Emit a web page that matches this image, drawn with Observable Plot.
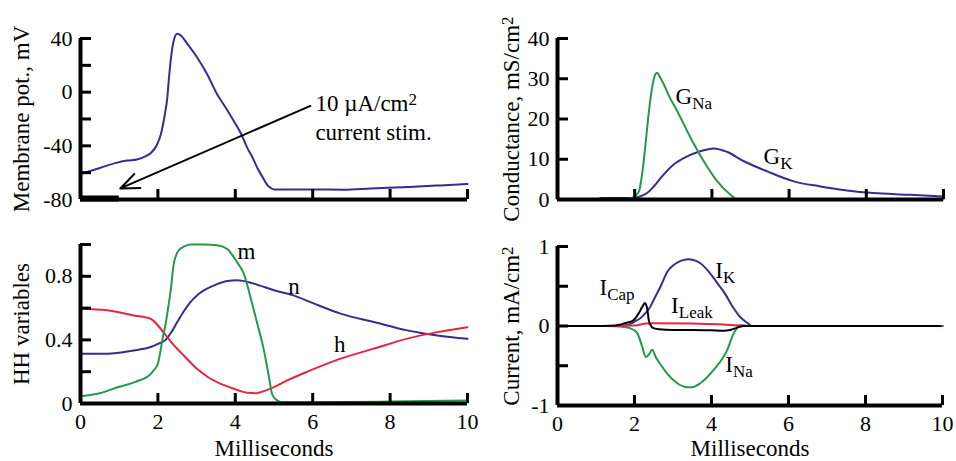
<!DOCTYPE html>
<html><head><meta charset="utf-8">
<script src="https://cdn.jsdelivr.net/npm/d3@7"></script>
<script src="https://cdn.jsdelivr.net/npm/@observablehq/plot@0.6"></script>
<style>
body{margin:0;background:#fff}
#wrap{position:relative;width:956px;height:461px;overflow:hidden;background:#fff}
#wrap svg{position:absolute}
</style></head><body><div id="wrap"></div>
<script>
// ---------- data ----------
// Panel A: membrane potential (mV)
const tV = [0, 0.5, 0.95, 1.2, 1.46, 1.7, 1.81, 1.98, 2.08, 2.15, 2.2, 2.24, 2.28, 2.33, 2.41, 2.5, 2.6, 2.76, 3.01, 3.27, 3.53, 3.75, 3.96, 4.15, 4.31, 4.45, 4.57, 4.7, 4.82, 4.92, 5.0, 5.5, 6.0, 6.8, 7.5, 8.5, 9.3, 10];
const V  = [-61, -56.5, -52.5, -51, -50.2, -47.5, -45.5, -39, -31, -21.5, -13, -5, 8.5, 23.5, 38.5, 43.5, 42, 36, 26, 13.5, -1.5, -11.5, -21.5, -31, -41.5, -49, -56.5, -63, -69, -71.5, -72.5, -72.5, -72.5, -72.7, -71.8, -70.6, -69.5, -68.5];
const stimStart = 0, stimEnd = 1;               // 10 µA/cm² current stimulus (ms)
const stimLevel = -80;
const arrowFrom = [5.94, -10.25];
const arrowTo   = [1.03, -71.75];
const annoText  = ["10 µA/cm^2", "current stim."];
const annoX     = [6.07, 6.07];
const annoY     = [-14, -36];

// Panel B: conductances (mS/cm²)
const tGNa = [0, 1.4, 1.7, 1.9, 2.0, 2.11, 2.19, 2.28, 2.37, 2.45, 2.54, 2.58, 2.65, 2.75, 2.9, 3.1, 3.45, 3.79, 4.14, 4.48, 4.66, 4.8, 10];
const GNa  = [0, 0, 0.1, 0.3, 0.8, 2, 6.2, 13.7, 22, 27.8, 31.2, 31.5, 30.5, 28.7, 25.5, 22, 15.3, 9.5, 4.5, 1.2, 0, 0, 0];
const tGK  = [0, 1.0, 1.15, 1.98, 2.15, 2.32, 2.5, 2.67, 3.01, 3.36, 3.7, 4.05, 4.4, 4.83, 5.43, 6.12, 6.81, 7.5, 8.19, 9.06, 10];
const GK   = [0, 0, 0.35, 0.4, 0.8, 1.6, 3.3, 5.3, 8.7, 10.7, 12, 12.7, 11.8, 9.5, 7, 4.5, 3.25, 2.25, 1.6, 1.2, 0.75];
const gLabels = ["G_Na", "G_K"];
const gLabelX = [3.06, 5.34];
const gLabelY = [23.75, 8.75];

// Panel C: HH gating variables
const tm = [0, 0.5, 1.0, 1.4, 1.81, 1.89, 2.0, 2.07, 2.13, 2.2, 2.27, 2.33, 2.41, 2.54, 2.7, 2.84, 3.2, 3.53, 3.8, 3.96, 4.1, 4.22, 4.39, 4.57, 4.74, 4.87, 4.95, 5.05, 5.2, 6, 8, 10];
const m  = [0.046, 0.065, 0.105, 0.134, 0.185, 0.208, 0.25, 0.334, 0.42, 0.5, 0.61, 0.71, 0.88, 0.964, 0.99, 1.0, 1.0, 0.995, 0.97, 0.92, 0.87, 0.817, 0.67, 0.5, 0.334, 0.166, 0.06, 0.025, 0.008, 0.008, 0.012, 0.019];
const tn = [0, 0.69, 1.38, 1.81, 2.0, 2.2, 2.35, 2.5, 2.67, 2.84, 3.01, 3.27, 3.5, 3.79, 4.05, 4.48, 5.0, 5.5, 5.94, 6.72, 7.58, 8.44, 9.22, 10];
const n  = [0.313, 0.313, 0.334, 0.355, 0.375, 0.4, 0.45, 0.512, 0.58, 0.638, 0.68, 0.722, 0.748, 0.77, 0.775, 0.754, 0.712, 0.68, 0.638, 0.565, 0.512, 0.46, 0.428, 0.407];
const th = [0, 0.69, 1.38, 1.81, 2.07, 2.24, 2.4, 2.67, 3.01, 3.3, 3.53, 3.96, 4.31, 4.55, 4.74, 5.0, 5.34, 5.94, 6.72, 7.58, 8.44, 9.22, 10];
const h  = [0.596, 0.586, 0.554, 0.533, 0.47, 0.418, 0.37, 0.302, 0.218, 0.165, 0.134, 0.093, 0.068, 0.065, 0.078, 0.103, 0.145, 0.208, 0.282, 0.345, 0.408, 0.449, 0.48];
const hhLabels = ["m", "n", "h"];
const hhLabelX = [4.06, 5.37, 6.55];
const hhLabelY = [0.911, 0.691, 0.323];

// Panel D: currents (mA/cm²)
const tIK  = [0, 1.5, 1.8, 1.98, 2.16, 2.3, 2.42, 2.5, 2.68, 2.85, 3.0, 3.2, 3.4, 3.6, 3.71, 3.97, 4.15, 4.32, 4.58, 4.75, 4.93, 5.05, 10];
const IK   = [0, 0, 0.01, 0.05, 0.1, 0.17, 0.25, 0.33, 0.5, 0.68, 0.76, 0.82, 0.84, 0.82, 0.79, 0.66, 0.54, 0.43, 0.22, 0.11, 0.04, 0, 0];
const tINa = [0, 1.4, 1.6, 1.9, 2.07, 2.2, 2.29, 2.37, 2.46, 2.55, 2.7, 2.85, 3.11, 3.37, 3.5, 3.71, 4.06, 4.41, 4.58, 4.75, 4.93, 10];
const INa  = [0, 0, -0.005, -0.03, -0.09, -0.26, -0.39, -0.36, -0.3, -0.39, -0.5, -0.6, -0.72, -0.77, -0.77, -0.72, -0.55, -0.3, -0.09, 0.01, 0, 0];
const tIL  = [0, 1.5, 2.0, 2.3, 2.5, 3.5, 4.3, 4.6, 4.9, 10];
const IL   = [0, 0, 0.005, 0.03, 0.035, 0.03, 0.02, 0.01, 0, 0];
const tIC  = [0.15, 1.2, 1.5, 1.64, 1.8, 1.98, 2.11, 2.2, 2.27, 2.3, 2.33, 2.37, 2.42, 2.46, 2.63, 3.0, 3.5, 4.0, 4.3, 4.49, 4.67, 4.84, 5.3, 9.95];
const IC   = [0, 0, 0.005, 0.02, 0.04, 0.075, 0.16, 0.24, 0.29, 0.27, 0.22, 0.075, 0.01, -0.02, -0.04, -0.05, -0.05, -0.055, -0.06, -0.05, -0.02, 0, 0, 0];
const iLabels = ["I_Cap", "I_Leak", "I_K", "I_Na"];
const iLabelX = [1.09, 2.95, 4.10, 4.36];
const iLabelY = [0.39, 0.16, 0.6, -0.575];

// axes
const xTicks = [0, 2, 4, 6, 8, 10];
const vTicks = [-80, -60, -40, -20, 0, 20, 40];
const vTickLabels = [-80, -40, 0, 40];
const gTicks = [0, 10, 20, 30, 40];
const hhTicks = [0, 0.2, 0.4, 0.6, 0.8, 1.0];
const hhTickLabels = [0, 0.4, 0.8];
const iTicks = [-1, -0.5, 0, 0.5, 1];
const iTickLabels = [-1, 0, 1];
const xTitle = "Milliseconds";

// ---------- styling ----------
const PURPLE = "#3b2a8f", GREEN = "#25994a", RED = "#e4263f", BLACK = "#000";
const FONT = "'Liberation Serif','Times New Roman',serif";
const pts = (t, v) => t.map((x, i) => ({t: x, v: v[i]}));
const lbl = (txt, xs, ys) => txt.map((s, i) => ({s, x: xs[i], y: ys[i]}));
const line = (t, v, stroke) => Plot.line(pts(t, v), {x: "t", y: "v", stroke, strokeWidth: 2, curve: "monotone-x"});

function panel(o) {
  const marks = [
    ...o.marks,
    Plot.ruleX([0], {stroke: BLACK, strokeWidth: 4}),
    Plot.ruleY([o.yDomain[0]], {stroke: BLACK, strokeWidth: 4}),
    // inward ticks: drawn outward by tickSize, then shifted back across the axis
    Plot.axisX(xTicks, {tickSize: 10, dy: -10, stroke: BLACK, strokeWidth: 3, tickFormat: () => "", label: null}),
    Plot.axisY(o.yTicks, {tickSize: 11, dx: 11, stroke: BLACK, strokeWidth: 3, tickFormat: () => "", label: null}),
    Plot.axisY(o.yTickLabels, {tickSize: 0, tickPadding: 8, fontSize: 22, fontFamily: FONT, fill: BLACK, tickFormat: d => String(d), label: null}),
    Plot.axisY([], {tickSize: 0, label: o.yTitle, labelAnchor: "center", labelArrow: "none", labelOffset: o.yTitleOffset, fontSize: 23, fontFamily: FONT, fill: BLACK})
  ];
  if (o.xLabels) {
    marks.push(Plot.axisX(xTicks, {tickSize: 0, tickPadding: 10, fontSize: 22, fontFamily: FONT, fill: BLACK, tickFormat: d => String(d), label: null}));
    marks.push(Plot.axisX([], {tickSize: 0, label: xTitle, labelAnchor: "center", labelArrow: "none", labelOffset: o.xTitleOffset, fontSize: 23, fontFamily: FONT, fill: BLACK}));
  }
  const svg = Plot.plot({
    width: o.width, height: o.height,
    marginLeft: o.ml, marginRight: o.mr, marginTop: o.mt, marginBottom: o.mb,
    x: {domain: [0, 10]},
    y: {domain: o.yDomain},
    style: {fontFamily: FONT, fontSize: "22px", background: "transparent", overflow: "visible"},
    marks
  });
  svg.style.left = o.left + "px";
  svg.style.top = o.top + "px";
  // sub/superscripts
  d3.select(svg).selectAll("text").each(function () {
    if (this.querySelector("tspan")) return;
    const s = this.textContent;
    const mm = s.match(/^(.*?)([_^])(.+)$/);
    if (!mm) return;
    const el = d3.select(this);
    el.text(null);
    el.append("tspan").text(mm[1]);
    const sub = mm[2] === "_";
    el.append("tspan").attr("dy", sub ? 5 : -6).attr("font-size", 17).text(mm[3]);
  });
  document.getElementById("wrap").appendChild(svg);
}

const labelText = (data, size) => Plot.text(data, {x: "x", y: "y", text: "s", textAnchor: "start", lineAnchor: "bottom", fontSize: size, fontFamily: FONT, fill: BLACK});

// A
panel({
  left: 0, top: 0, width: 478, height: 230, ml: 80, mr: 11, mt: 38, mb: 31,
  yDomain: [-80, 40], yTicks: vTicks, yTickLabels: vTickLabels,
  yTitle: "Membrane pot., mV", yTitleOffset: 68, xLabels: false,
  marks: [
    line(tV, V, PURPLE),
    Plot.ruleY([{x1: stimStart, x2: stimEnd, y: stimLevel}], {x1: "x1", x2: "x2", y: "y", stroke: BLACK, strokeWidth: 6, dy: -1}),
    Plot.arrow([{x1: arrowFrom[0], y1: arrowFrom[1], x2: arrowTo[0], y2: arrowTo[1]}],
      {x1: "x1", y1: "y1", x2: "x2", y2: "y2", stroke: BLACK, strokeWidth: 2, headLength: 15, headAngle: 45}),
    labelText(lbl(annoText, annoX, annoY), 23)
  ]
});
// B
panel({
  left: 478, top: 0, width: 478, height: 230, ml: 79, mr: 13, mt: 38, mb: 31,
  yDomain: [0, 40], yTicks: gTicks, yTickLabels: gTicks,
  yTitle: "Conductance, mS/cm^2", yTitleOffset: 55, xLabels: false,
  marks: [
    line(tGK, GK, PURPLE),
    line(tGNa, GNa, GREEN),
    labelText(lbl(gLabels, gLabelX, gLabelY), 23)
  ]
});
// C
panel({
  left: 0, top: 230, width: 478, height: 231, ml: 80, mr: 11, mt: 14, mb: 58,
  yDomain: [0, 1], yTicks: hhTicks, yTickLabels: hhTickLabels,
  yTitle: "HH variables", yTitleOffset: 68, xLabels: true, xTitleOffset: 52,
  marks: [
    line(tn, n, PURPLE),
    line(th, h, RED),
    line(tm, m, GREEN),
    labelText(lbl(hhLabels, hhLabelX, hhLabelY), 23)
  ]
});
// D
panel({
  left: 478, top: 230, width: 478, height: 231, ml: 79, mr: 14, mt: 16, mb: 56,
  yDomain: [-1, 1], yTicks: iTicks, yTickLabels: iTickLabels,
  yTitle: "Current, mA/cm^2", yTitleOffset: 55, xLabels: true, xTitleOffset: 50,
  marks: [
    line(tIK, IK, PURPLE),
    line(tINa, INa, GREEN),
    line(tIL, IL, RED),
    line(tIC, IC, BLACK),
    labelText(lbl(iLabels, iLabelX, iLabelY), 23)
  ]
});
</script></body></html>
